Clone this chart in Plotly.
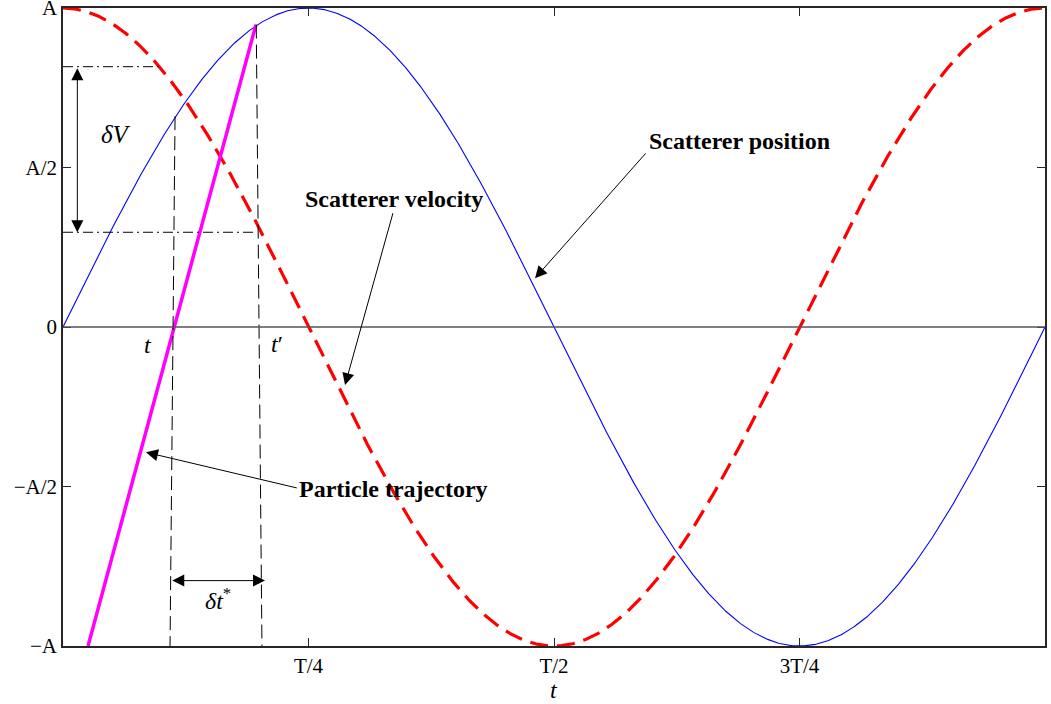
import numpy as np
import plotly.graph_objects as go

# Oscillation parameters (normalised: amplitude A = 1, period T = 1)
A = 1.0
T = 1.0
t = np.linspace(0, T, 801)
position = A * np.sin(2 * np.pi * t / T)   # scatterer position
velocity = A * np.cos(2 * np.pi * t / T)   # scatterer velocity

# Particle trajectory (straight segment)
particle_t = [0.0255, 0.1965]
particle_v = [-1.0, 0.948]

# Tick labels
x_tickvals = [0.25, 0.5, 0.75]
x_ticktext = ["T/4", "T/2", "3T/4"]
y_tickvals = [-1, -0.5, 0, 0.5, 1]
y_ticktext = ["\u2212A", "\u2212A/2", "0", "A/2", "A"]

FONT = "Liberation Serif, Times New Roman, serif"

fig = go.Figure()
fig.add_trace(go.Scatter(x=t, y=position, mode="lines",
                         line=dict(color="#0000ff", width=1.1),
                         hoverinfo="skip"))
fig.add_trace(go.Scatter(x=t, y=velocity, mode="lines",
                         line=dict(color="#ff0000", width=3.2, dash="18px,9px"),
                         hoverinfo="skip"))
fig.add_trace(go.Scatter(x=particle_t, y=particle_v, mode="lines",
                         line=dict(color="#ff00ff", width=3.5),
                         hoverinfo="skip"))

# Construction lines
dashdot = "10px,4px,2px,4px"
shapes = [
    dict(type="line", x0=0, x1=0.0988, y0=0.816, y1=0.816,
         line=dict(color="black", width=1, dash=dashdot)),
    dict(type="line", x0=0, x1=0.1976, y0=0.297, y1=0.297,
         line=dict(color="black", width=1, dash=dashdot)),
    dict(type="line", x0=0.1141, x1=0.1090, y0=0.661, y1=-1,
         line=dict(color="black", width=1, dash="14px,6px")),
    dict(type="line", x0=0.1968, x1=0.2026, y0=0.948, y1=-1,
         line=dict(color="black", width=1, dash="14px,6px")),
    dict(type="line", x0=0, x1=1, y0=0, y1=0,
         line=dict(color="#555555", width=1.5)),
]

annotations = []

def arrow(x, y, ax, ay, both=False):
    annotations.append(dict(
        x=x, y=y, ax=ax, ay=ay, xref="x", yref="y", axref="x", ayref="y",
        text="", showarrow=True, arrowhead=2, arrowsize=2.4, arrowwidth=1,
        arrowcolor="black", arrowside="end+start" if both else "end",
        startarrowhead=2, startarrowsize=2.4, standoff=0, startstandoff=0))

def label(x, y, text, size=24):
    annotations.append(dict(
        x=x, y=y, xref="x", yref="y", text=text, showarrow=False,
        xanchor="center", yanchor="middle",
        font=dict(family=FONT, size=size, color="black")))

# Double arrows for deltaV and delta t*
arrow(0.0146, 0.297, 0.0146, 0.816, both=True)
arrow(0.2057, -0.795, 0.1097, -0.795, both=True)

# Pointer arrows
arrow(0.4807, 0.153, 0.5947, 0.549)
arrow(0.2872, -0.182, 0.3364, 0.3614)
arrow(0.0845, -0.3928, 0.2396, -0.5056)

label(0.054, 0.605, "<i>\u03b4V</i>", 25)
label(0.0866, -0.056, "<i>t</i>")
label(0.218, -0.053, "<i>t</i>\u2032")
label(0.1583, -0.853, "<i>\u03b4t</i><sup>*</sup>")
label(0.6894, 0.584, "<b>Scatterer position</b>", 24)
label(0.337, 0.401, "<b>Scatterer velocity</b>", 24)
label(0.337, -0.508, "<b>Particle trajectory</b>", 24)

# x-axis title
annotations.append(dict(x=0.5, y=-1, xref="x", yref="y", yshift=-44,
                        text="<i>t</i>", showarrow=False,
                        xanchor="center", yanchor="middle",
                        font=dict(family=FONT, size=24, color="black")))

axis_common = dict(showgrid=False, zeroline=False, showline=True,
                   linecolor="#262626", linewidth=1.5, mirror="ticks",
                   ticks="inside", ticklen=8, tickwidth=1, tickcolor="#262626",
                   ticklabeloverflow="allow",
                   tickfont=dict(family=FONT, size=21, color="black"))

fig.update_layout(
    width=1051, height=704,
    margin=dict(l=63, r=6, t=8, b=58),
    paper_bgcolor="white", plot_bgcolor="white",
    showlegend=False,
    shapes=shapes, annotations=annotations,
    xaxis=dict(range=[0, T], tickvals=x_tickvals, ticktext=x_ticktext,
               automargin=False, **axis_common),
    yaxis=dict(range=[-A, A], tickvals=y_tickvals, ticktext=y_ticktext,
               automargin=False, **axis_common),
)

fig.write_html("out.html")
